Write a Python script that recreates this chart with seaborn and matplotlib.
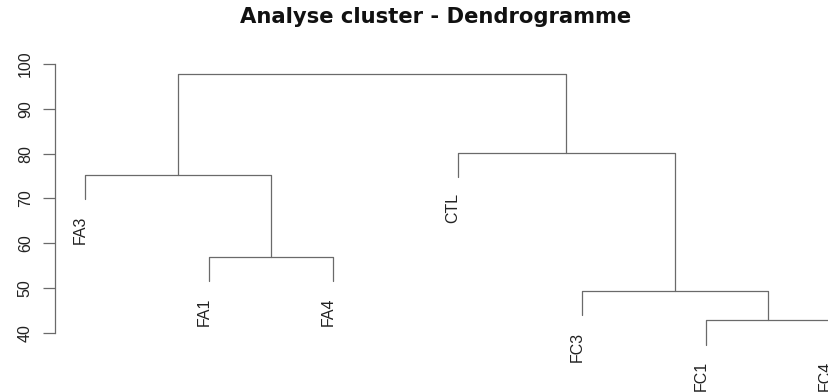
import numpy as np
import pandas as pd
import matplotlib
matplotlib.use("Agg")
import matplotlib.pyplot as plt
import seaborn as sns

# Leaves in display order and the agglomeration steps (R hclust style:
# negative = leaf index, positive = earlier merge step, 1-based)
leaf_labels = ["FA3", "FA1", "FA4", "CTL", "FC3", "FC1", "FC4"]
merge_left = [-6, -5, -2, -1, -4, 4]
merge_right = [-7, 1, -3, 3, 2, 5]
merge_heights = [42.9, 49.4, 57.0, 75.3, 80.2, 97.8]
y_ticks = [40, 50, 60, 70, 80, 90, 100]
title = "Analyse cluster - Dendrogramme"

sns.set_style("white")
plt.rcParams["font.family"] = ["Liberation Sans", "DejaVu Sans"]

line_col = "#6a6a6a"
hang = 0.1 * (max(merge_heights) - min(merge_heights))

# positions of leaves along x
leaf_pos = {i + 1: float(i + 1) for i in range(len(leaf_labels))}
node_x = {}
node_y = {}
rows = []
leaf_ends = {}

def child_xy(c, parent_h):
    if c < 0:
        x = leaf_pos[-c]
        y = parent_h - hang
        leaf_ends[-c] = (x, y)
        return x, y
    return node_x[c], node_y[c]

for k, (l, r, h) in enumerate(zip(merge_left, merge_right, merge_heights), start=1):
    xl, yl = child_xy(l, h)
    xr, yr = child_xy(r, h)
    for px, py in [(xl, yl), (xl, h), (xr, h), (xr, yr)]:
        rows.append({"seg": k, "x": px, "y": py})
    node_x[k] = (xl + xr) / 2
    node_y[k] = h

df = pd.DataFrame(rows)

fig = plt.figure(figsize=(8.29, 3.92), dpi=100)
ax = fig.add_axes([55.2 / 829, (392 - 355.4) / 392, 804.8 / 829, (355.4 - 63.1) / 392])

sns.lineplot(data=df, x="x", y="y", units="seg", estimator=None, sort=False,
             color=line_col, linewidth=0.9, ax=ax, clip_on=False)

ax.set_xlim(0.76, 7.24)
ax.set_ylim(35.0, 100.2)

for i, lab in enumerate(leaf_labels, start=1):
    x, y = leaf_ends[i]
    ax.annotate(lab, xy=(x, y), xytext=(-3.5, -11.5), textcoords="offset points",
                rotation=90, ha="center", va="top", fontsize=11.5,
                color="#222222", annotation_clip=False)

ax.set_xlabel("")
ax.set_ylabel("")
ax.set_xticks([])
ax.set_yticks(y_ticks)
ax.set_yticklabels([str(t) for t in y_ticks], rotation=90, va="center",
                   fontsize=11.5, color="#222222")
ax.tick_params(axis="y", left=True, length=8.6, width=0.9, color=line_col, pad=7.5)
for s in ["top", "right", "bottom"]:
    ax.spines[s].set_visible(False)
ax.spines["left"].set_bounds(40, 100)
ax.spines["left"].set_color(line_col)
ax.spines["left"].set_linewidth(0.9)
ax.patch.set_alpha(0)

fig.text(436 / 829, 1 - 17 / 392, title, ha="center", va="center",
         fontsize=15.2, fontweight="bold", family=["DejaVu Sans"], color="#111111")

fig.savefig("out.png", dpi=100)
